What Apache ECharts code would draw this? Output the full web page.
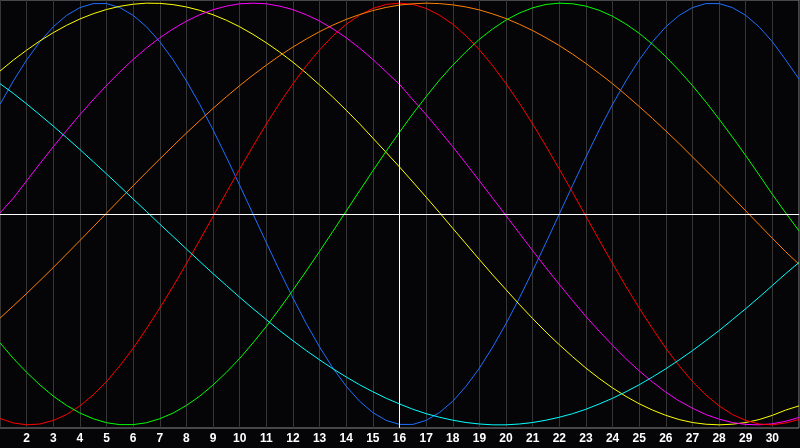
<!DOCTYPE html>
<html>
<head>
<meta charset="utf-8">
<script src="https://cdn.jsdelivr.net/npm/echarts@6/dist/echarts.min.js"></script>
<style>
  html, body { margin: 0; padding: 0; background: #050508; }
  #chart { width: 800px; height: 448px; }
</style>
</head>
<body>
<div id="chart"></div>
<script>
// x positions, every half step from 1 to 31 (ticks 2..30 are labelled)
var xValues = [1, 1.5, 2, 2.5, 3, 3.5, 4, 4.5, 5, 5.5, 6, 6.5, 7, 7.5, 8, 8.5, 9, 9.5, 10, 10.5,
    11, 11.5, 12, 12.5, 13, 13.5, 14, 14.5, 15, 15.5, 16, 16.5, 17, 17.5, 18, 18.5, 19, 19.5, 20, 20.5,
    21, 21.5, 22, 22.5, 23, 23.5, 24, 24.5, 25, 25.5, 26, 26.5, 27, 27.5, 28, 28.5, 29, 29.5, 30, 30.5, 31];

// values, one per x position
var blueValues = [0.520, 0.631, 0.731, 0.817, 0.888, 0.942, 0.979, 0.998, 0.998, 0.979, 0.942, 0.888, 0.817, 0.731, 0.631, 0.520,
    0.399, 0.270, 0.136, 0.000, -0.136, -0.270, -0.399, -0.520, -0.631, -0.731, -0.817, -0.888, -0.942, -0.979, -0.998,
    -0.998, -0.979, -0.942, -0.888, -0.817, -0.731, -0.631, -0.520, -0.399, -0.270, -0.136, 0.000, 0.136, 0.270, 0.399,
    0.520, 0.631, 0.731, 0.817, 0.888, 0.942, 0.979, 0.998, 0.998, 0.979, 0.942, 0.888, 0.817, 0.731, 0.640];
var yellowValues = [0.678, 0.730, 0.777, 0.821, 0.860, 0.895, 0.925, 0.950, 0.970, 0.985, 0.995, 1.000, 0.999, 0.993, 0.982,
    0.966, 0.945, 0.919, 0.888, 0.852, 0.812, 0.768, 0.720, 0.668, 0.612, 0.554, 0.492, 0.428, 0.360, 0.292, 0.223,
    0.152, 0.080, 0.007, -0.068, -0.142, -0.216, -0.289, -0.359, -0.429, -0.496, -0.560, -0.620, -0.677, -0.731, -0.780,
    -0.825, -0.865, -0.900, -0.930, -0.955, -0.975, -0.989, -0.997, -1.000, -0.997, -0.989, -0.975, -0.955, -0.930, -0.910];
var magentaValues = [0.005, 0.075, 0.157, 0.239, 0.319, 0.396, 0.471, 0.542, 0.610, 0.674, 0.733, 0.787, 0.836, 0.878, 0.915,
    0.945, 0.969, 0.986, 0.997, 1.000, 0.997, 0.986, 0.969, 0.945, 0.915, 0.878, 0.836, 0.787, 0.733, 0.674, 0.615,
    0.542, 0.471, 0.396, 0.319, 0.239, 0.157, 0.075, -0.008, -0.091, -0.174, -0.255, -0.334, -0.411, -0.486, -0.556,
    -0.623, -0.686, -0.744, -0.797, -0.845, -0.887, -0.921, -0.951, -0.973, -0.989, -0.998, -1.000, -0.995, -0.983, -0.965];
var redValues = [-0.970, -0.991, -1.000, -0.996, -0.979, -0.951, -0.910, -0.858, -0.795, -0.720, -0.637, -0.544, -0.446, -0.343,
    -0.235, -0.124, -0.011, 0.102, 0.213, 0.322, 0.427, 0.526, 0.618, 0.703, 0.779, 0.845, 0.900, 0.943, 0.975, 0.994, 1.000,
    0.994, 0.975, 0.943, 0.900, 0.845, 0.779, 0.703, 0.618, 0.526, 0.427, 0.322, 0.213, 0.102, -0.011, -0.124, -0.235,
    -0.343, -0.446, -0.544, -0.637, -0.720, -0.795, -0.858, -0.910, -0.951, -0.979, -0.996, -1.000, -0.991, -0.975];
var orangeValues = [-0.494, -0.436, -0.377, -0.316, -0.254, -0.190, -0.126, -0.061, 0.004, 0.069, 0.134, 0.198, 0.261, 0.323,
    0.384, 0.443, 0.501, 0.556, 0.609, 0.659, 0.706, 0.751, 0.792, 0.830, 0.865, 0.896, 0.923, 0.946, 0.965, 0.980, 0.991,
    0.997, 1.000, 0.998, 0.992, 0.982, 0.968, 0.949, 0.927, 0.900, 0.870, 0.836, 0.799, 0.758, 0.714, 0.667, 0.618,
    0.565, 0.510, 0.453, 0.394, 0.334, 0.271, 0.208, 0.145, 0.080, 0.015, -0.050, -0.115, -0.179, -0.238];
var greenValues = [-0.611, -0.685, -0.751, -0.811, -0.864, -0.908, -0.944, -0.971, -0.990, -0.999, -0.999, -0.990, -0.971,
    -0.944, -0.908, -0.864, -0.811, -0.751, -0.685, -0.611, -0.533, -0.449, -0.361, -0.270, -0.177, -0.082, 0.014, 0.110,
    0.205, 0.298, 0.388, 0.475, 0.557, 0.635, 0.706, 0.770, 0.829, 0.878, 0.920, 0.953, 0.978, 0.994, 1.000, 0.997, 0.986,
    0.966, 0.938, 0.901, 0.857, 0.805, 0.746, 0.680, 0.609, 0.532, 0.450, 0.365, 0.277, 0.186, 0.093, 0.005, -0.080];
var cyanValues = [0.618, 0.572, 0.522, 0.470, 0.417, 0.362, 0.306, 0.248, 0.190, 0.131, 0.071, 0.012, -0.048, -0.107, -0.166,
    -0.225, -0.283, -0.339, -0.395, -0.449, -0.501, -0.553, -0.601, -0.648, -0.692, -0.734, -0.773, -0.810, -0.843, -0.874,
    -0.901, -0.926, -0.947, -0.964, -0.978, -0.989, -0.996, -1.000, -1.000, -0.996, -0.989, -0.978, -0.964, -0.947, -0.926,
    -0.901, -0.874, -0.843, -0.810, -0.773, -0.734, -0.692, -0.648, -0.601, -0.553, -0.501, -0.449, -0.395, -0.339, -0.283, -0.230];

var lineColors = ['#1f6fff', '#ffff00', '#ff00ff', '#ff0000', '#ff8000', '#00ff00', '#00ffff'];
var seriesValues = [blueValues, yellowValues, magentaValues, redValues, orangeValues, greenValues, cyanValues];

var myChart = echarts.init(document.getElementById('chart'));

var series = seriesValues.map(function (values, i) {
    return {
        type: 'line',
        smooth: false,
        showSymbol: false,
        silent: true,
        lineStyle: { color: lineColors[i], width: 1 },
        data: values.map(function (v, j) { return [xValues[j], v]; })
    };
});

// white cross through the middle of the plot
series.push({
    type: 'line',
    data: [],
    silent: true,
    markLine: {
        symbol: ['none', 'none'],
        silent: true,
        animation: false,
        label: { show: false },
        lineStyle: { color: '#ffffff', width: 1, type: 'solid' },
        data: [{ xAxis: 16 }, { yAxis: 0 }]
    }
});

var option = {
    backgroundColor: '#050508',
    animation: false,
    grid: {
        left: 0, right: 1, top: 0, bottom: 20,
        show: true,
        borderColor: '#8a8a8a',
        borderWidth: 1
    },
    xAxis: {
        type: 'value',
        min: 1,
        max: 31,
        interval: 1,
        axisLine: { show: true, lineStyle: { color: '#8a8a8a' } },
        axisTick: { show: false },
        axisLabel: {
            color: '#ffffff',
            fontFamily: 'Liberation Sans',
            fontWeight: 'bold',
            fontSize: 12,
            margin: 5,
            showMinLabel: false,
            showMaxLabel: false
        },
        splitLine: { show: true, lineStyle: { color: '#363636', width: 1 } }
    },
    yAxis: {
        type: 'value',
        min: -1.015,
        max: 1.015,
        axisLine: { show: false },
        axisTick: { show: false },
        axisLabel: { show: false },
        splitLine: { show: false }
    },
    series: series
};

myChart.setOption(option);
</script>
</body>
</html>
